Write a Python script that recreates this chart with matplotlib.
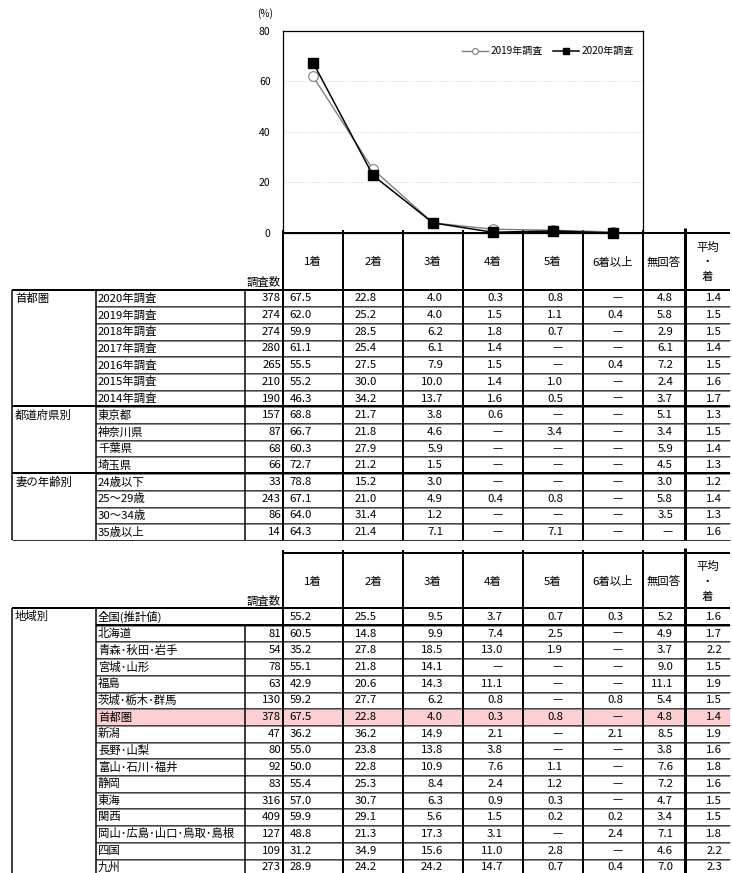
import matplotlib.pyplot as plt

plt.rcParams['font.family'] = ['Noto Sans CJK JP', 'DejaVu Sans']
plt.rcParams['font.size'] = 8.2

# chart data
places = ['1着', '2着', '3着', '4着', '5着', '6着以上']
chart_2019 = [62.0, 25.2, 4.0, 1.5, 1.1, 0.4]
chart_2020 = [67.5, 22.8, 4.0, 0.3, 0.8, 0.0]

col_heads = ['1着', '2着', '3着', '4着', '5着', '6着以上', '無回答']

# table 1 (首都圏)
t1_groups = [('首都圏', 7), ('都道府県別', 4), ('妻の年齢別', 4)]
t1_labels = ['2020年調査', '2019年調査', '2018年調査', '2017年調査', '2016年調査',
             '2015年調査', '2014年調査', '東京都', '神奈川県', '千葉県', '埼玉県',
             '24歳以下', '25～29歳', '30～34歳', '35歳以上']
t1_counts = [378, 274, 274, 280, 265, 210, 190, 157, 87, 68, 66, 33, 243, 86, 14]
t1_values = [
    [67.5, 22.8, 4.0, 0.3, 0.8, None, 4.8, 1.4],
    [62.0, 25.2, 4.0, 1.5, 1.1, 0.4, 5.8, 1.5],
    [59.9, 28.5, 6.2, 1.8, 0.7, None, 2.9, 1.5],
    [61.1, 25.4, 6.1, 1.4, None, None, 6.1, 1.4],
    [55.5, 27.5, 7.9, 1.5, None, 0.4, 7.2, 1.5],
    [55.2, 30.0, 10.0, 1.4, 1.0, None, 2.4, 1.6],
    [46.3, 34.2, 13.7, 1.6, 0.5, None, 3.7, 1.7],
    [68.8, 21.7, 3.8, 0.6, None, None, 5.1, 1.3],
    [66.7, 21.8, 4.6, None, 3.4, None, 3.4, 1.5],
    [60.3, 27.9, 5.9, None, None, None, 5.9, 1.4],
    [72.7, 21.2, 1.5, None, None, None, 4.5, 1.3],
    [78.8, 15.2, 3.0, None, None, None, 3.0, 1.2],
    [67.1, 21.0, 4.9, 0.4, 0.8, None, 5.8, 1.4],
    [64.0, 31.4, 1.2, None, None, None, 3.5, 1.3],
    [64.3, 21.4, 7.1, None, 7.1, None, None, 1.6],
]

# table 2 (地域別)
t2_groups = [('地域別', 16)]
t2_labels = ['全国(推計値)', '北海道', '青森･秋田･岩手', '宮城･山形', '福島', '茨城･栃木･群馬',
             '首都圏', '新潟', '長野･山梨', '富山･石川･福井', '静岡', '東海', '関西',
             '岡山･広島･山口･鳥取･島根', '四国', '九州']
t2_counts = [None, 81, 54, 78, 63, 130, 378, 47, 80, 92, 83, 316, 409, 127, 109, 273]
t2_values = [
    [55.2, 25.5, 9.5, 3.7, 0.7, 0.3, 5.2, 1.6],
    [60.5, 14.8, 9.9, 7.4, 2.5, None, 4.9, 1.7],
    [35.2, 27.8, 18.5, 13.0, 1.9, None, 3.7, 2.2],
    [55.1, 21.8, 14.1, None, None, None, 9.0, 1.5],
    [42.9, 20.6, 14.3, 11.1, None, None, 11.1, 1.9],
    [59.2, 27.7, 6.2, 0.8, None, 0.8, 5.4, 1.5],
    [67.5, 22.8, 4.0, 0.3, 0.8, None, 4.8, 1.4],
    [36.2, 36.2, 14.9, 2.1, None, 2.1, 8.5, 1.9],
    [55.0, 23.8, 13.8, 3.8, None, None, 3.8, 1.6],
    [50.0, 22.8, 10.9, 7.6, 1.1, None, 7.6, 1.8],
    [55.4, 25.3, 8.4, 2.4, 1.2, None, 7.2, 1.6],
    [57.0, 30.7, 6.3, 0.9, 0.3, None, 4.7, 1.5],
    [59.9, 29.1, 5.6, 1.5, 0.2, 0.2, 3.4, 1.5],
    [48.8, 21.3, 17.3, 3.1, None, 2.4, 7.1, 1.8],
    [31.2, 34.9, 15.6, 11.0, 2.8, None, 4.6, 2.2],
    [28.9, 24.2, 24.2, 14.7, 0.7, 0.4, 7.0, 2.3],
]
t2_highlight = '首都圏'

W, H = 732, 873
PX = 0.72  # one pixel in points
col_x = [283, 343, 403, 463, 523, 583, 643, 685, 730]
num_right = [312, 377, 443, 503, 563, 623, 673, 722]

fig = plt.figure(figsize=(W / 100, H / 100), dpi=100)

# overlay in pixel coordinates for the tables
ov = fig.add_axes([0, 0, 1, 1])
ov.set_xlim(0, W)
ov.set_ylim(H, 0)
ov.axis('off')


def hline(y, x0, x1, color='black', lw=1.0):
    ov.plot([x0, x1], [y, y], color=color, lw=lw * PX, solid_capstyle='butt')


def vline(x, y0, y1, color='black', lw=1.0):
    ov.plot([x, x], [y0, y1], color=color, lw=lw * PX, solid_capstyle='butt')


def draw_table(head_top, top, row_h, groups, labels, counts, values, highlight=None, head_line=False):
    n = len(labels)
    bottom = top + n * row_h
    # header
    if head_line:
        hline(head_top, col_x[0], col_x[-1], lw=2)
    hc = (head_top + top) / 2
    for i, h in enumerate(col_heads):
        ov.text((col_x[i] + col_x[i + 1]) / 2, hc + 1, h, ha='center', va='center')
    ax_ = (col_x[7] + col_x[8]) / 2
    ov.text(ax_, hc - 14, '平均', ha='center', va='center')
    ov.text(ax_, hc + 1, '・', ha='center', va='center')
    ov.text(ax_, hc + 16, '着', ha='center', va='center')
    ov.text(281, top - 7, '調査数', ha='right', va='center')
    # rows
    for r in range(n):
        y0 = top + r * row_h
        yc = y0 + row_h / 2 + 0.5
        if labels[r] == highlight:
            ov.fill_between([96, col_x[-1]], y0, y0 + row_h, color='#fcd0d0', lw=0, zorder=0)
        ov.text(98, yc, labels[r], ha='left', va='center')
        if counts[r] is not None:
            ov.text(281, yc, str(counts[r]), ha='right', va='center')
        for c, v in enumerate(values[r]):
            s = '—' if v is None else f'{v:.1f}'
            ov.text(num_right[c], yc, s, ha='right', va='center')
        if r < n - 1:
            hline(y0 + row_h + 1, 96, col_x[-1], color='#8a8a8a', lw=2)
            hline(y0 + row_h, 96, col_x[-1], color='#333333', lw=0.8)
    # group lines + labels
    hline(top, 12, col_x[-1], lw=2)
    r = 0
    for name, k in groups:
        ov.text(15, top + r * row_h + row_h / 2 + 0.5, name, ha='left', va='center')
        if r > 0:
            hline(top + r * row_h, 12, col_x[-1], lw=2)
        r += k
    hline(bottom, 12, col_x[-1], color='#333333', lw=1)
    if counts[0] is None:
        hline(top + row_h, 96, col_x[-1], lw=2)
    # vertical lines
    vline(12, top, bottom, lw=1.5)
    vline(96, top, bottom, lw=1.5)
    vline(245, top + (row_h if counts[0] is None else 0), bottom, lw=1.5)
    for x in col_x[:7]:
        vline(x, head_top - 3, bottom, lw=2)
    vline(col_x[7], head_top - 5, bottom, lw=3)


# table 1
hline(233, 283, col_x[-1], lw=2)
draw_table(233, 289.5, 16.7, t1_groups, t1_labels, t1_counts, t1_values)
# table 2
draw_table(553, 608, 16.7, t2_groups, t2_labels, t2_counts, t2_values,
           highlight=t2_highlight, head_line=True)

# line chart on top
ax = fig.add_axes([col_x[0] / W, 1 - 233 / H, (col_x[6] - col_x[0]) / W, (233 - 31) / H])
ax.set_zorder(5)
ax.patch.set_alpha(0)
x = list(range(len(places)))
ax.plot(x, chart_2019, color='#808080', lw=1, marker='o', ms=7,
        mfc='white', mec='#808080', mew=0.8, label='2019年調査', clip_on=False)
ax.plot(x, chart_2020, color='black', lw=1.1, marker='s', ms=7,
        mfc='black', mec='black', label='2020年調査', clip_on=False)
ax.set_xlim(-0.5, 5.5)
ax.set_ylim(0, 80)
ax.set_yticks([0, 20, 40, 60, 80])
ax.set_xticks([])
ax.tick_params(axis='y', length=0, pad=9, labelsize=7.5)
ax.grid(axis='y', color='#cccccc', lw=0.6, ls=':')
for s in ax.spines.values():
    s.set_linewidth(0.9)
ax.text(-0.05, 1.085, '(%)', transform=ax.transAxes, ha='center', va='center', fontsize=7.2)
ax.legend(loc='upper right', ncol=2, frameon=False, markerscale=0.6, fontsize=7.2,
          handlelength=2.6, columnspacing=1.0, handletextpad=0.3,
          bbox_to_anchor=(1.0, 0.97))

fig.savefig('out.png', dpi=100)
